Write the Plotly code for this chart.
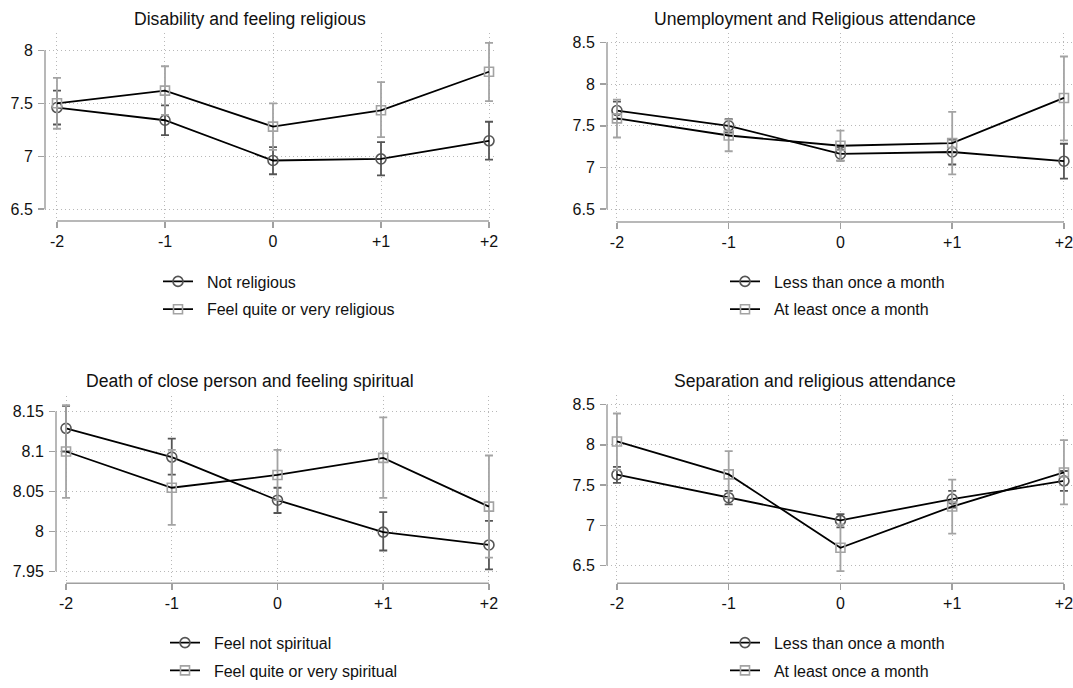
import plotly.graph_objects as go

# ---------------- data ----------------
x_vals = [-2, -1, 0, 1, 2]
x_labels = ["-2", "-1", "0", "+1", "+2"]

p1_title = "Disability and feeling religious"
p1_names = ["Not religious", "Feel quite or very religious"]
p1_a_mean = [7.46, 7.34, 6.96, 6.975, 7.146]
p1_a_lo = [7.30, 7.20, 6.83, 6.82, 6.968]
p1_a_hi = [7.62, 7.48, 7.087, 7.133, 7.326]
p1_b_mean = [7.50, 7.62, 7.28, 7.434, 7.798]
p1_b_lo = [7.26, 7.39, 7.06, 7.18, 7.52]
p1_b_hi = [7.74, 7.85, 7.50, 7.70, 8.07]
p1_yticks = [6.5, 7, 7.5, 8]
p1_yticktext = ["6.5", "7", "7.5", "8"]

p2_title = "Unemployment and Religious attendance"
p2_names = ["Less than once a month", "At least once a month"]
p2_a_mean = [7.683, 7.50, 7.163, 7.186, 7.076]
p2_a_lo = [7.58, 7.42, 7.083, 7.036, 6.867]
p2_a_hi = [7.79, 7.58, 7.243, 7.336, 7.285]
p2_b_mean = [7.589, 7.384, 7.261, 7.293, 7.834]
p2_b_lo = [7.36, 7.195, 7.08, 6.918, 7.325]
p2_b_hi = [7.814, 7.573, 7.443, 7.668, 8.331]
p2_yticks = [6.5, 7, 7.5, 8, 8.5]
p2_yticktext = ["6.5", "7", "7.5", "8", "8.5"]

p3_title = "Death of close person and feeling spiritual"
p3_names = ["Feel not spiritual", "Feel quite or very spiritual"]
p3_a_mean = [8.129, 8.093, 8.039, 7.999, 7.983]
p3_a_lo = [8.100, 8.071, 8.023, 7.976, 7.9525]
p3_a_hi = [8.157, 8.116, 8.0546, 8.024, 8.013]
p3_b_mean = [8.100, 8.0546, 8.0706, 8.092, 8.031]
p3_b_lo = [8.042, 8.008, 8.039, 8.042, 7.967]
p3_b_hi = [8.158, 8.102, 8.102, 8.1426, 8.095]
p3_yticks = [7.95, 8, 8.05, 8.1, 8.15]
p3_yticktext = ["7.95", "8", "8.05", "8.1", "8.15"]

p4_title = "Separation and religious attendance"
p4_names = ["Less than once a month", "At least once a month"]
p4_a_mean = [7.629, 7.343, 7.061, 7.326, 7.552]
p4_a_lo = [7.527, 7.261, 6.975, 7.22, 7.429]
p4_a_hi = [7.727, 7.429, 7.138, 7.429, 7.675]
p4_b_mean = [8.042, 7.633, 6.721, 7.233, 7.657]
p4_b_lo = [7.69, 7.34, 6.43, 6.897, 7.261]
p4_b_hi = [8.39, 7.923, 7.01, 7.567, 8.058]
p4_yticks = [6.5, 7, 7.5, 8, 8.5]
p4_yticktext = ["6.5", "7", "7.5", "8", "8.5"]

# ---------------- layout constants ----------------
W, H = 1073, 688
FONT = "Liberation Sans, Arial, sans-serif"
DARK = "#555555"
LIGHT = "#a3a3a3"
AXIS = "#a0a0a0"
GRID = "#b8b8b8"

panels = [
    dict(title=p1_title, names=p1_names, a=(p1_a_mean, p1_a_lo, p1_a_hi),
         b=(p1_b_mean, p1_b_lo, p1_b_hi), yt=p1_yticks, ytt=p1_yticktext,
         px=(45, 497), py=(33, 224), xr=(-2.111, 2.074), yr=(6.388, 8.168),
         tx=250, ty=19, lx=158, ly=268),
    dict(title=p2_title, names=p2_names, a=(p2_a_mean, p2_a_lo, p2_a_hi),
         b=(p2_b_mean, p2_b_lo, p2_b_hi), yt=p2_yticks, ytt=p2_yticktext,
         px=(607, 1073), py=(33, 225), xr=(-2.089, 2.081), yr=(6.346, 8.618),
         tx=815, ty=19, lx=725, ly=268),
    dict(title=p3_title, names=p3_names, a=(p3_a_mean, p3_a_lo, p3_a_hi),
         b=(p3_b_mean, p3_b_lo, p3_b_hi), yt=p3_yticks, ytt=p3_yticktext,
         px=(56, 497), py=(401, 591), xr=(-2.095, 2.076), yr=(7.935, 8.1698),
         tx=250, ty=386, lx=165, ly=634),
    dict(title=p4_title, names=p4_names, a=(p4_a_mean, p4_a_lo, p4_a_hi),
         b=(p4_b_mean, p4_b_lo, p4_b_hi), yt=p4_yticks, ytt=p4_yticktext,
         px=(607, 1073), py=(400, 591), xr=(-2.089, 2.081), yr=(6.279, 8.623),
         tx=815, ty=386, lx=725, ly=634),
]

fig = go.Figure()
layout = dict(
    width=W, height=H, autosize=False,
    margin=dict(l=0, r=0, t=0, b=0, pad=0),
    paper_bgcolor="white", plot_bgcolor="white",
    font=dict(family=FONT, size=16, color="#111111"),
    showlegend=True,
)
annotations = []
shapes = []

for i, p in enumerate(panels, start=1):
    sfx = "" if i == 1 else str(i)
    xa, ya = "x" + sfx, "y" + sfx
    leg = "legend" + sfx
    for key, name, col, sym in (("a", p["names"][0], DARK, "circle-open"),
                                ("b", p["names"][1], LIGHT, "square-open")):
        mean, lo, hi = p[key]
        fig.add_trace(go.Scatter(
            x=x_vals, y=mean, name="\u00a0\u00a0" + name, mode="lines+markers",
            xaxis=xa, yaxis=ya, legend=leg, legendgroup=f"{i}{key}",
            line=dict(color="black", width=1.8),
            marker=dict(symbol=sym, size=10 if sym.startswith("circle") else 9,
                        color=col, line=dict(width=1.6, color=col)),
            error_y=dict(type="data", symmetric=False,
                         array=[h - m for h, m in zip(hi, mean)],
                         arrayminus=[m - l for m, l in zip(mean, lo)],
                         color=col, thickness=1.8, width=4),
            cliponaxis=False,
            hoverinfo="skip",
        ))
    dom_x = [p["px"][0] / W, min(1.0, p["px"][1] / W)]
    dom_y = [1 - p["py"][1] / H, 1 - p["py"][0] / H]
    layout["xaxis" + sfx] = dict(
        domain=dom_x, anchor=ya, range=list(p["xr"]),
        tickvals=x_vals, ticktext=x_labels, ticks="outside", ticklen=6,
        tickwidth=1.5, tickcolor=AXIS, showline=False, zeroline=False,
        showgrid=True, gridcolor=GRID, griddash="1px,3px", gridwidth=1,
        tickfont=dict(size=16, color="#111111"), fixedrange=True,
        ticklabeloverflow="allow",
    )
    layout["yaxis" + sfx] = dict(
        domain=dom_y, anchor=xa, range=list(p["yr"]),
        tickvals=p["yt"], ticktext=p["ytt"], ticks="outside", ticklen=6,
        tickwidth=1.5, tickcolor=AXIS, showline=False, zeroline=False,
        showgrid=True, gridcolor=GRID, griddash="1px,3px", gridwidth=1,
        tickfont=dict(size=16, color="#111111"), ticklabelstandoff=2,
        fixedrange=True, ticklabeloverflow="allow",
    )
    # Stata-style axis lines spanning only the tick range
    shapes.append(dict(type="line", xref=xa, yref=ya + " domain",
                       x0=min(x_vals), x1=max(x_vals), y0=0, y1=0,
                       line=dict(color=AXIS, width=1.5), layer="above"))
    shapes.append(dict(type="line", xref=xa + " domain", yref=ya,
                       x0=0, x1=0, y0=min(p["yt"]), y1=max(p["yt"]),
                       line=dict(color=AXIS, width=1.5), layer="above"))
    annotations.append(dict(text=p["title"], x=p["tx"] / W,
                            y=1 - p["ty"] / H,
                            xref="paper", yref="paper", xanchor="center",
                            yanchor="middle", showarrow=False,
                            font=dict(size=17.6, color="#111111")))
    layout[leg] = dict(x=p["lx"] / W, y=1 - p["ly"] / H,
                       xanchor="left", yanchor="top", bgcolor="rgba(0,0,0,0)",
                       tracegroupgap=4,
                       font=dict(size=16, color="#111111"),
                       itemclick=False, itemdoubleclick=False)

layout["annotations"] = annotations
layout["shapes"] = shapes
fig.update_layout(**layout)
# remove the browser's default 8px body margin so the figure fills the window
fig.write_html("out.html",
               config={"displayModeBar": False, "staticPlot": True},
               post_script="document.body.style.margin='0';"
                           "document.body.style.overflow='hidden';")
